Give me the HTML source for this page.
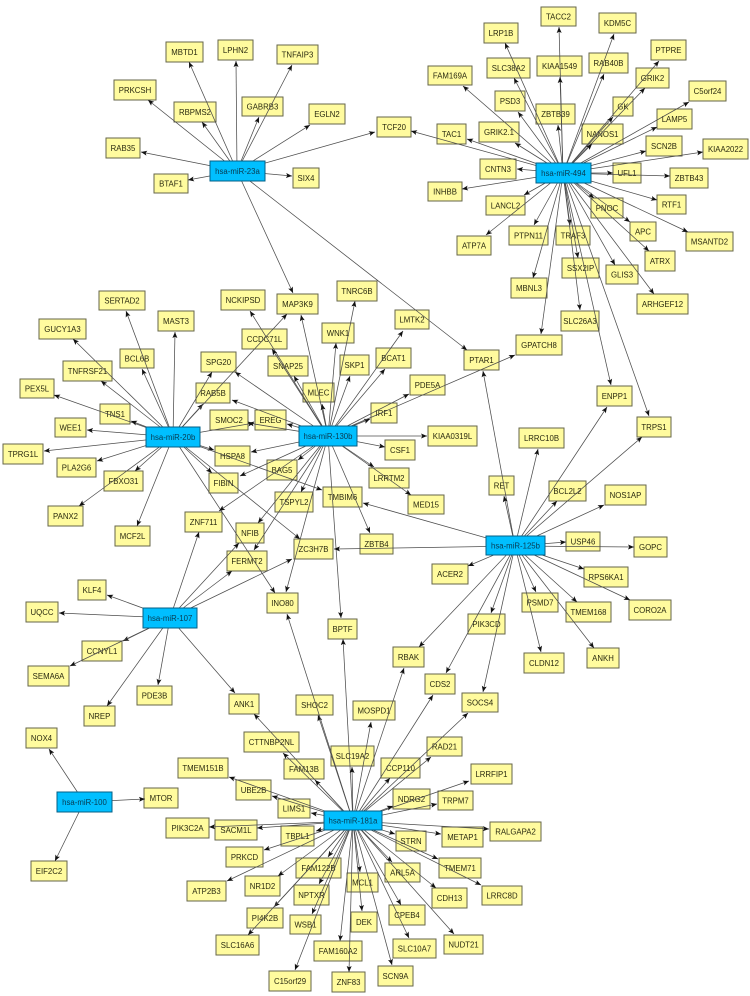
<!DOCTYPE html>
<html><head><meta charset="utf-8"><title>miRNA network</title>
<style>
html,body{margin:0;padding:0;background:#fff;width:750px;height:996px;overflow:hidden}
svg{display:block;filter:blur(.3px)}
text{font-family:"Liberation Sans",sans-serif;font-size:7.8px;fill:#2a2a10;text-anchor:middle}
.n rect{fill:#fffb9e;stroke:#66664a;stroke-width:1}
.h rect{fill:#00bfff;stroke:#055f85;stroke-width:1}
.h text{fill:#083a50}
</style></head><body>
<svg width="750" height="996" viewBox="0 0 750 996" xmlns="http://www.w3.org/2000/svg">
<defs><marker id="a" markerUnits="userSpaceOnUse" markerWidth="7" markerHeight="7" refX="6" refY="3" orient="auto"><path d="M6 3L0 .5 1.3 3 0 5.5Z" fill="#111" stroke="none"/></marker></defs>
<g class="n">
<rect x="166" y="42" width="37" height="20"/><text x="184.5" y="55">MBTD1</text>
<rect x="218" y="40" width="35" height="20"/><text x="235.5" y="53">LPHN2</text>
<rect x="277" y="45" width="41" height="19"/><text x="297.5" y="57.5">TNFAIP3</text>
<rect x="114" y="80" width="42" height="20"/><text x="135" y="93">PRKCSH</text>
<rect x="174" y="102" width="42" height="20"/><text x="195" y="115">RBPMS2</text>
<rect x="242" y="97" width="41" height="19"/><text x="262.5" y="109.5">GABRB3</text>
<rect x="309" y="104" width="36" height="20"/><text x="327" y="117">EGLN2</text>
<rect x="106" y="138" width="34" height="20"/><text x="123" y="151">RAB35</text>
<rect x="154" y="174" width="34" height="19"/><text x="171" y="186.5">BTAF1</text>
<rect x="293" y="168" width="26" height="20"/><text x="306" y="181">SIX4</text>
<rect x="541" y="7" width="35" height="19"/><text x="558.5" y="19.5">TACC2</text>
<rect x="599" y="13" width="37" height="20"/><text x="617.5" y="26">KDM5C</text>
<rect x="484" y="23" width="34" height="20"/><text x="501" y="36">LRP1B</text>
<rect x="651" y="40" width="35" height="20"/><text x="668.5" y="53">PTPRE</text>
<rect x="428" y="66" width="44" height="19"/><text x="450" y="78.5">FAM169A</text>
<rect x="487" y="58" width="43" height="20"/><text x="508.5" y="71">SLC38A2</text>
<rect x="537" y="56" width="45" height="20"/><text x="559.5" y="69">KIAA1549</text>
<rect x="589" y="53" width="39" height="20"/><text x="608.5" y="66">RAB40B</text>
<rect x="636" y="68" width="33" height="20"/><text x="652.5" y="81">GRIK2</text>
<rect x="689" y="81" width="37" height="20"/><text x="707.5" y="94">C5orf24</text>
<rect x="495" y="91" width="30" height="20"/><text x="510" y="104">PSD3</text>
<rect x="613" y="97" width="20" height="19"/><text x="623" y="109.5">GK</text>
<rect x="536" y="104" width="39" height="20"/><text x="555.5" y="117">ZBTB39</text>
<rect x="657" y="109" width="35" height="20"/><text x="674.5" y="122">LAMP5</text>
<rect x="377" y="117" width="34" height="20"/><text x="394" y="130">TCF20</text>
<rect x="437" y="124" width="29" height="20"/><text x="451.5" y="137">TAC1</text>
<rect x="479" y="122" width="40" height="20"/><text x="499" y="135">GRIK2.1</text>
<rect x="582" y="124" width="41" height="20"/><text x="602.5" y="137">NANOS1</text>
<rect x="646" y="136" width="36" height="20"/><text x="664" y="149">SCN2B</text>
<rect x="703" y="139" width="45" height="20"/><text x="725.5" y="152">KIAA2022</text>
<rect x="480" y="159" width="36" height="20"/><text x="498" y="172">CNTN3</text>
<rect x="613" y="163" width="28" height="20"/><text x="627" y="176">UFL1</text>
<rect x="670" y="168" width="38" height="20"/><text x="689" y="181">ZBTB43</text>
<rect x="428" y="182" width="34" height="19"/><text x="445" y="194.5">INHBB</text>
<rect x="657" y="195" width="29" height="19"/><text x="671.5" y="207.5">RTF1</text>
<rect x="486" y="196" width="39" height="19"/><text x="505.5" y="208.5">LANCL2</text>
<rect x="591" y="198" width="32" height="20"/><text x="607" y="211">PNOC</text>
<rect x="630" y="222" width="26" height="19"/><text x="643" y="234.5">APC</text>
<rect x="686" y="232" width="47" height="19"/><text x="709.5" y="244.5">MSANTD2</text>
<rect x="457" y="236" width="34" height="19"/><text x="474" y="248.5">ATP7A</text>
<rect x="509" y="226" width="39" height="19"/><text x="528.5" y="238.5">PTPN11</text>
<rect x="556" y="226" width="34" height="19"/><text x="573" y="238.5">TRAF3</text>
<rect x="645" y="251" width="30" height="20"/><text x="660" y="264">ATRX</text>
<rect x="562" y="258" width="37" height="20"/><text x="580.5" y="271">SSX2IP</text>
<rect x="606" y="265" width="32" height="19"/><text x="622" y="277.5">GLIS3</text>
<rect x="511" y="278" width="36" height="20"/><text x="529" y="291">MBNL3</text>
<rect x="637" y="294" width="51" height="20"/><text x="662.5" y="307">ARHGEF12</text>
<rect x="561" y="311" width="38" height="20"/><text x="580" y="324">SLC26A3</text>
<rect x="516" y="335" width="46" height="20"/><text x="539" y="348">GPATCH8</text>
<rect x="597" y="386" width="35" height="20"/><text x="614.5" y="399">ENPP1</text>
<rect x="637" y="417" width="34" height="20"/><text x="654" y="430">TRPS1</text>
<rect x="464" y="350" width="35" height="20"/><text x="481.5" y="363">PTAR1</text>
<rect x="376" y="348" width="35" height="20"/><text x="393.5" y="361">BCAT1</text>
<rect x="410" y="375" width="35" height="20"/><text x="427.5" y="388">PDE5A</text>
<rect x="371" y="403" width="26" height="20"/><text x="384" y="416">IRF1</text>
<rect x="428" y="426" width="49" height="20"/><text x="452.5" y="439">KIAA0319L</text>
<rect x="385" y="440" width="30" height="20"/><text x="400" y="453">CSF1</text>
<rect x="369" y="468" width="40" height="20"/><text x="389" y="481">LRRTM2</text>
<rect x="408" y="495" width="36" height="19"/><text x="426" y="507.5">MED15</text>
<rect x="519" y="428" width="45" height="20"/><text x="541.5" y="441">LRRC10B</text>
<rect x="489" y="476" width="25" height="19"/><text x="501.5" y="488.5">RET</text>
<rect x="549" y="481" width="37" height="20"/><text x="567.5" y="494">BCL2L2</text>
<rect x="605" y="485" width="41" height="20"/><text x="625.5" y="498">NOS1AP</text>
<rect x="566" y="532" width="34" height="19"/><text x="583" y="544.5">USP46</text>
<rect x="634" y="537" width="33" height="20"/><text x="650.5" y="550">GOPC</text>
<rect x="432" y="564" width="36" height="20"/><text x="450" y="577">ACER2</text>
<rect x="584" y="567" width="44" height="20"/><text x="606" y="580">RPS6KA1</text>
<rect x="629" y="600" width="42" height="20"/><text x="650" y="613">CORO2A</text>
<rect x="522" y="593" width="36" height="19"/><text x="540" y="605.5">PSMD7</text>
<rect x="566" y="602" width="45" height="20"/><text x="588.5" y="615">TMEM168</text>
<rect x="468" y="614" width="37" height="20"/><text x="486.5" y="627">PIK3CD</text>
<rect x="393" y="647" width="31" height="20"/><text x="408.5" y="660">RBAK</text>
<rect x="425" y="674" width="30" height="20"/><text x="440" y="687">CDS2</text>
<rect x="462" y="693" width="36" height="19"/><text x="480" y="705.5">SOCS4</text>
<rect x="524" y="653" width="40" height="20"/><text x="544" y="666">CLDN12</text>
<rect x="587" y="648" width="32" height="20"/><text x="603" y="661">ANKH</text>
<rect x="99" y="291" width="46" height="19"/><text x="122" y="303.5">SERTAD2</text>
<rect x="221" y="290" width="44" height="20"/><text x="243" y="303">NCKIPSD</text>
<rect x="277" y="294" width="41" height="20"/><text x="297.5" y="307">MAP3K9</text>
<rect x="337" y="281" width="40" height="20"/><text x="357" y="294">TNRC6B</text>
<rect x="158" y="311" width="36" height="20"/><text x="176" y="324">MAST3</text>
<rect x="39" y="319" width="47" height="20"/><text x="62.5" y="332">GUCY1A3</text>
<rect x="242" y="329" width="45" height="20"/><text x="264.5" y="342">CCDC71L</text>
<rect x="322" y="323" width="32" height="20"/><text x="338" y="336">WNK1</text>
<rect x="395" y="310" width="34" height="19"/><text x="412" y="322.5">LMTK2</text>
<rect x="120" y="349" width="34" height="19"/><text x="137" y="361.5">BCL6B</text>
<rect x="201" y="352" width="35" height="20"/><text x="218.5" y="365">SPG20</text>
<rect x="63" y="361" width="49" height="20"/><text x="87.5" y="374">TNFRSF21</text>
<rect x="268" y="356" width="40" height="20"/><text x="288" y="369">SNAP25</text>
<rect x="340" y="355" width="29" height="20"/><text x="354.5" y="368">SKP1</text>
<rect x="20" y="379" width="34" height="19"/><text x="37" y="391.5">PEX5L</text>
<rect x="196" y="383" width="34" height="20"/><text x="213" y="396">RAB5B</text>
<rect x="303" y="383" width="31" height="19"/><text x="318.5" y="395.5">MLEC</text>
<rect x="100" y="404" width="30" height="20"/><text x="115" y="417">TNS1</text>
<rect x="55" y="418" width="31" height="19"/><text x="70.5" y="430.5">WEE1</text>
<rect x="210" y="410" width="38" height="20"/><text x="229" y="423">SMOC2</text>
<rect x="255" y="410" width="31" height="20"/><text x="270.5" y="423">EREG</text>
<rect x="3" y="444" width="40" height="20"/><text x="23" y="457">TPRG1L</text>
<rect x="57" y="458" width="39" height="19"/><text x="76.5" y="470.5">PLA2G6</text>
<rect x="215" y="446" width="35" height="20"/><text x="232.5" y="459">HSPA8</text>
<rect x="267" y="460" width="30" height="20"/><text x="282" y="473">BAG5</text>
<rect x="104" y="471" width="39" height="20"/><text x="123.5" y="484">FBXO31</text>
<rect x="209" y="473" width="29" height="20"/><text x="223.5" y="486">FIBIN</text>
<rect x="275" y="492" width="38" height="20"/><text x="294" y="505">TSPYL2</text>
<rect x="323" y="487" width="39" height="20"/><text x="342.5" y="500">TMBIM6</text>
<rect x="48" y="506" width="35" height="20"/><text x="65.5" y="519">PANX2</text>
<rect x="185" y="512" width="37" height="20"/><text x="203.5" y="525">ZNF711</text>
<rect x="236" y="523" width="28" height="20"/><text x="250" y="536">NFIB</text>
<rect x="115" y="526" width="35" height="20"/><text x="132.5" y="539">MCF2L</text>
<rect x="360" y="534" width="33" height="20"/><text x="376.5" y="547">ZBTB4</text>
<rect x="294" y="539" width="39" height="20"/><text x="313.5" y="552">ZC3H7B</text>
<rect x="227" y="551" width="40" height="20"/><text x="247" y="564">FERMT2</text>
<rect x="78" y="580" width="28" height="20"/><text x="92" y="593">KLF4</text>
<rect x="26" y="602" width="32" height="20"/><text x="42" y="615">UQCC</text>
<rect x="267" y="593" width="31" height="20"/><text x="282.5" y="606">INO80</text>
<rect x="328" y="619" width="29" height="20"/><text x="342.5" y="632">BPTF</text>
<rect x="82" y="641" width="40" height="20"/><text x="102" y="654">CCNYL1</text>
<rect x="28" y="666" width="41" height="20"/><text x="48.5" y="679">SEMA6A</text>
<rect x="84" y="706" width="31" height="20"/><text x="99.5" y="719">NREP</text>
<rect x="137" y="686" width="35" height="19"/><text x="154.5" y="698.5">PDE3B</text>
<rect x="229" y="694" width="30" height="20"/><text x="244" y="707">ANK1</text>
<rect x="296" y="695" width="37" height="20"/><text x="314.5" y="708">SHOC2</text>
<rect x="353" y="701" width="42" height="19"/><text x="374" y="713.5">MOSPD1</text>
<rect x="26" y="728" width="31" height="20"/><text x="41.5" y="741">NOX4</text>
<rect x="144" y="788" width="34" height="20"/><text x="161" y="801">MTOR</text>
<rect x="31" y="861" width="36" height="20"/><text x="49" y="874">EIF2C2</text>
<rect x="244" y="732" width="55" height="20"/><text x="271.5" y="745">CTTNBP2NL</text>
<rect x="331" y="746" width="43" height="20"/><text x="352.5" y="759">SLC19A2</text>
<rect x="427" y="737" width="35" height="19"/><text x="444.5" y="749.5">RAD21</text>
<rect x="284" y="759" width="40" height="20"/><text x="304" y="772">FAM13B</text>
<rect x="381" y="758" width="39" height="20"/><text x="400.5" y="771">CCP110</text>
<rect x="178" y="758" width="50" height="20"/><text x="203" y="771">TMEM151B</text>
<rect x="471" y="764" width="41" height="20"/><text x="491.5" y="777">LRRFIP1</text>
<rect x="236" y="780" width="35" height="20"/><text x="253.5" y="793">UBE2B</text>
<rect x="393" y="789" width="37" height="20"/><text x="411.5" y="802">NDRG2</text>
<rect x="438" y="791" width="35" height="19"/><text x="455.5" y="803.5">TRPM7</text>
<rect x="278" y="799" width="32" height="19"/><text x="294" y="811.5">LIMS1</text>
<rect x="166" y="818" width="43" height="20"/><text x="187.5" y="831">PIK3C2A</text>
<rect x="215" y="820" width="42" height="20"/><text x="236" y="833">SACM1L</text>
<rect x="281" y="826" width="33" height="20"/><text x="297.5" y="839">TBPL1</text>
<rect x="490" y="822" width="51" height="19"/><text x="515.5" y="834.5">RALGAPA2</text>
<rect x="442" y="827" width="41" height="20"/><text x="462.5" y="840">METAP1</text>
<rect x="396" y="831" width="30" height="20"/><text x="411" y="844">STRN</text>
<rect x="226" y="847" width="37" height="20"/><text x="244.5" y="860">PRKCD</text>
<rect x="439" y="858" width="42" height="20"/><text x="460" y="871">TMEM71</text>
<rect x="296" y="858" width="45" height="20"/><text x="318.5" y="871">FAM122B</text>
<rect x="385" y="863" width="35" height="19"/><text x="402.5" y="875.5">ARL5A</text>
<rect x="347" y="873" width="31" height="19"/><text x="362.5" y="885.5">MCL1</text>
<rect x="482" y="886" width="40" height="19"/><text x="502" y="898.5">LRRC8D</text>
<rect x="187" y="881" width="39" height="20"/><text x="206.5" y="894">ATP2B3</text>
<rect x="245" y="876" width="35" height="20"/><text x="262.5" y="889">NR1D2</text>
<rect x="294" y="885" width="35" height="20"/><text x="311.5" y="898">NPTXR</text>
<rect x="432" y="888" width="35" height="20"/><text x="449.5" y="901">CDH13</text>
<rect x="247" y="908" width="36" height="20"/><text x="265" y="921">PI4K2B</text>
<rect x="389" y="905" width="36" height="20"/><text x="407" y="918">CPEB4</text>
<rect x="351" y="912" width="26" height="20"/><text x="364" y="925">DEK</text>
<rect x="290" y="915" width="31" height="19"/><text x="305.5" y="927.5">WSB1</text>
<rect x="216" y="935" width="43" height="20"/><text x="237.5" y="948">SLC16A6</text>
<rect x="444" y="935" width="39" height="19"/><text x="463.5" y="947.5">NUDT21</text>
<rect x="393" y="939" width="43" height="19"/><text x="414.5" y="951.5">SLC10A7</text>
<rect x="314" y="941" width="48" height="20"/><text x="338" y="954">FAM160A2</text>
<rect x="378" y="966" width="35" height="20"/><text x="395.5" y="979">SCN9A</text>
<rect x="269" y="971" width="42" height="20"/><text x="290" y="984">C15orf29</text>
<rect x="332" y="972" width="33" height="20"/><text x="348.5" y="985">ZNF83</text>
</g>
<g fill="none" stroke="#4c4c4c" stroke-width=".75" marker-end="url(#a)">
<path d="M237 171L189 62"/><path d="M237 171L236 61"/><path d="M237 171L292 65"/><path d="M237 171L148 100"/><path d="M237 171L202 122"/><path d="M237 171L259 117"/><path d="M237 171L310 125"/><path d="M237 171L375 132"/><path d="M237 171L141 152"/><path d="M237 171L188 180"/><path d="M237 171L292 176"/><path d="M237 171L293 293"/><path d="M237 171L467 350"/>
<path d="M563 173L559 27"/><path d="M563 173L614 34"/><path d="M563 173L505 43"/><path d="M563 173L659 61"/><path d="M563 173L463 86"/><path d="M563 173L514 78"/><path d="M563 173L560 77"/><path d="M563 173L604 74"/><path d="M563 173L645 88"/><path d="M563 173L689 102"/><path d="M563 173L518 112"/><path d="M563 173L613 117"/><path d="M563 173L558 125"/><path d="M563 173L657 127"/><path d="M563 173L592 144"/><path d="M563 173L411 131"/><path d="M563 173L467 139"/><path d="M563 173L515 143"/><path d="M563 173L646 151"/><path d="M563 173L703 152"/><path d="M563 173L517 169"/><path d="M563 173L613 173"/><path d="M563 173L670 176"/><path d="M563 173L462 189"/><path d="M563 173L657 200"/><path d="M563 173L524 195"/><path d="M563 173L594 198"/><path d="M563 173L630 222"/><path d="M563 173L688 232"/><path d="M563 173L486 235"/><path d="M563 173L534 225"/><path d="M563 173L570 225"/><path d="M563 173L649 251"/><path d="M563 173L578 258"/><path d="M563 173L615 265"/><path d="M563 173L533 278"/><path d="M563 173L654 294"/><path d="M563 173L580 310"/><path d="M563 173L541 334"/><path d="M563 173L611 385"/><path d="M563 173L649 416"/>
<path d="M173 437L126 311"/><path d="M173 437L175 332"/><path d="M173 437L73 339"/><path d="M173 437L142 369"/><path d="M173 437L101 381"/><path d="M173 437L212 372"/><path d="M173 437L54 395"/><path d="M173 437L203 404"/><path d="M173 437L287 314"/><path d="M173 437L131 421"/><path d="M173 437L87 430"/><path d="M173 437L44 451"/><path d="M173 437L97 461"/><path d="M173 437L135 471"/><path d="M173 437L79 506"/><path d="M173 437L137 526"/><path d="M173 437L254 423"/><path d="M173 437L214 450"/><path d="M173 437L212 473"/><path d="M173 437L322 490"/><path d="M173 437L300 539"/><path d="M173 437L275 593"/>
<path d="M328 436L250 311"/><path d="M328 436L272 349"/><path d="M328 436L294 376"/><path d="M328 436L301 315"/><path d="M328 436L336 343"/><path d="M328 436L355 301"/><path d="M328 436L350 376"/><path d="M328 436L322 404"/><path d="M328 436L385 369"/><path d="M328 436L403 331"/><path d="M328 436L409 394"/><path d="M328 436L370 419"/><path d="M328 436L515 355"/><path d="M328 436L427 436"/><path d="M328 436L385 447"/><path d="M328 436L374 467"/><path d="M328 436L411 495"/><path d="M328 436L370 533"/><path d="M328 436L341 618"/><path d="M328 436L286 592"/><path d="M328 436L301 492"/><path d="M328 436L298 460"/><path d="M328 436L258 523"/><path d="M328 436L254 550"/><path d="M328 436L219 511"/><path d="M328 436L240 476"/><path d="M328 436L251 452"/><path d="M328 436L248 423"/><path d="M328 436L287 424"/><path d="M328 436L232 400"/><path d="M328 436L235 372"/>
<path d="M515 546L483 371"/><path d="M515 546L538 449"/><path d="M515 546L504 496"/><path d="M515 546L557 501"/><path d="M515 546L607 407"/><path d="M515 546L642 437"/><path d="M515 546L604 505"/><path d="M515 546L566 542"/><path d="M515 546L634 547"/><path d="M515 546L468 566"/><path d="M515 546L584 569"/><path d="M515 546L630 600"/><path d="M515 546L536 592"/><path d="M515 546L577 602"/><path d="M515 546L491 613"/><path d="M515 546L419 647"/><path d="M515 546L446 673"/><path d="M515 546L483 692"/><path d="M515 546L541 652"/><path d="M515 546L594 648"/><path d="M515 546L363 503"/><path d="M515 546L334 549"/>
<path d="M170 618L199 532"/><path d="M170 618L239 543"/><path d="M170 618L232 571"/><path d="M170 618L292 559"/><path d="M170 618L107 595"/><path d="M170 618L59 613"/><path d="M170 618L123 641"/><path d="M170 618L70 666"/><path d="M170 618L107 706"/><path d="M170 618L158 685"/><path d="M170 618L235 693"/>
<path d="M353 821L254 714"/><path d="M353 821L318 715"/><path d="M353 821L287 614"/><path d="M353 821L343 639"/><path d="M353 821L371 722"/><path d="M353 821L404 668"/><path d="M353 821L433 695"/><path d="M353 821L468 713"/><path d="M353 821L352 767"/><path d="M353 821L431 757"/><path d="M353 821L315 780"/><path d="M353 821L390 778"/><path d="M353 821L283 753"/><path d="M353 821L229 777"/><path d="M353 821L469 781"/><path d="M353 821L272 796"/><path d="M353 821L393 806"/><path d="M353 821L437 804"/><path d="M353 821L311 813"/><path d="M353 821L209 827"/><path d="M353 821L257 828"/><path d="M353 821L316 831"/><path d="M353 821L489 829"/><path d="M353 821L441 834"/><path d="M353 821L395 834"/><path d="M353 821L264 850"/><path d="M353 821L438 859"/><path d="M353 821L328 857"/><path d="M353 821L392 862"/><path d="M353 821L360 872"/><path d="M353 821L481 885"/><path d="M353 821L227 881"/><path d="M353 821L278 876"/><path d="M353 821L319 884"/><path d="M353 821L436 888"/><path d="M353 821L274 907"/><path d="M353 821L401 905"/><path d="M353 821L362 911"/><path d="M353 821L312 914"/><path d="M353 821L248 935"/><path d="M353 821L454 934"/><path d="M353 821L409 938"/><path d="M353 821L340 941"/><path d="M353 821L392 965"/><path d="M353 821L295 970"/><path d="M353 821L349 972"/>
<path d="M84 802L49 749"/><path d="M84 802L145 799"/><path d="M84 802L55 861"/>
</g>
<g class="h">
<rect x="210" y="161" width="55" height="20"/><text x="237.5" y="174">hsa-miR-23a</text>
<rect x="536" y="163" width="55" height="20"/><text x="563.5" y="176">hsa-miR-494</text>
<rect x="146" y="427" width="54" height="20"/><text x="173" y="440">hsa-miR-20b</text>
<rect x="299" y="426" width="58" height="20"/><text x="328" y="439">hsa-miR-130b</text>
<rect x="486" y="536" width="59" height="19"/><text x="515.5" y="548.5">hsa-miR-125b</text>
<rect x="143" y="608" width="54" height="20"/><text x="170" y="621">hsa-miR-107</text>
<rect x="57" y="792" width="55" height="20"/><text x="84.5" y="805">hsa-miR-100</text>
<rect x="324" y="811" width="58" height="19"/><text x="353" y="823.5">hsa-miR-181a</text>
</g>
</svg>
</body></html>
